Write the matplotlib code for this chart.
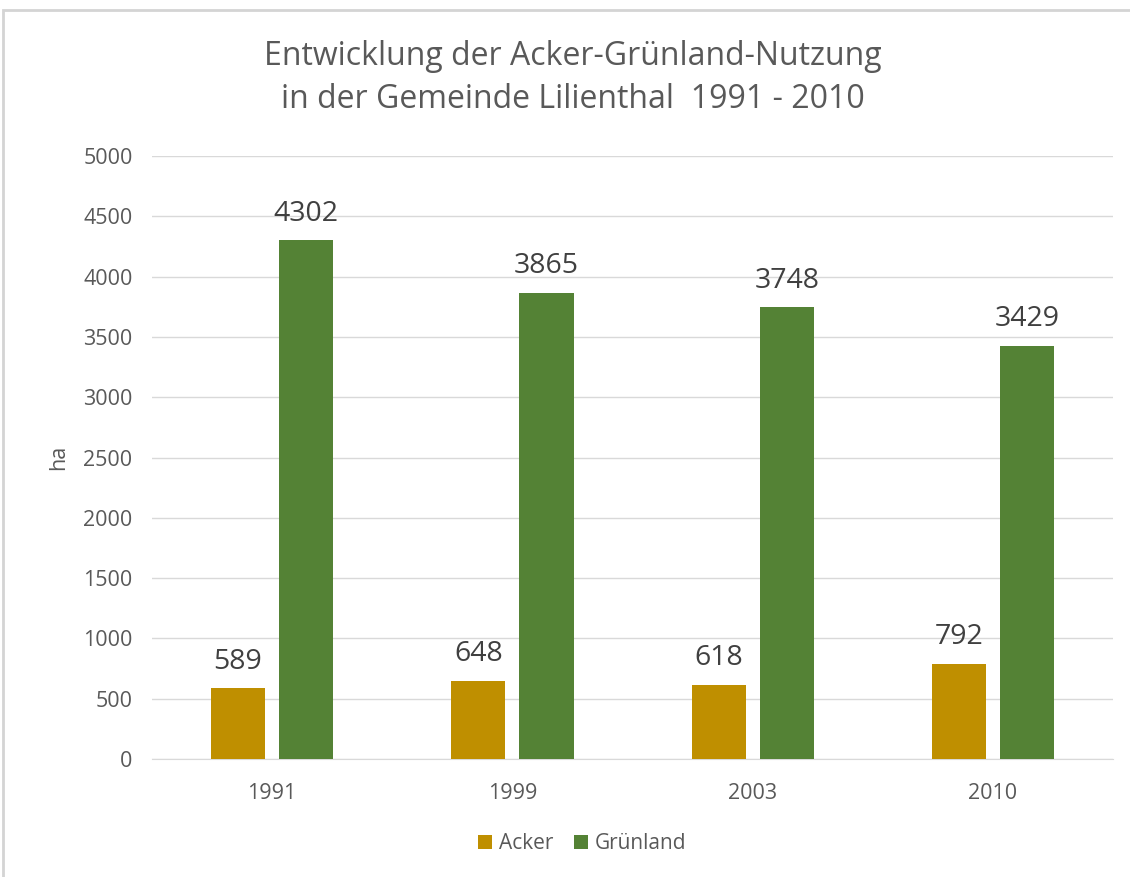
import numpy as np
import matplotlib.pyplot as plt
from matplotlib.patches import Rectangle

years = ['1991', '1999', '2003', '2010']
acker = [589, 648, 618, 792]
gruenland = [4302, 3865, 3748, 3429]
yticks = [0, 500, 1000, 1500, 2000, 2500, 3000, 3500, 4000, 4500, 5000]

plt.rcParams['font.family'] = ['Open Sans', 'DejaVu Sans']

fig = plt.figure(figsize=(11.3, 8.77), dpi=100)
ax = fig.add_axes([0.1345, 0.1345, 0.8505, 0.6875])

# chart frame (only top/left edges visible in the screenshot)
fig.patches.append(Rectangle((3 / 1130, -0.1), 1.2, (877 - 10) / 877 + 0.1,
                             transform=fig.transFigure, fill=False,
                             edgecolor='#d4d4d4', linewidth=2))

x = np.arange(len(years))
w = 0.225
off = 0.142
b1 = ax.bar(x - off, acker, width=w, color='#BF8F00', label='Acker', zorder=3)
b2 = ax.bar(x + off, gruenland, width=w, color='#548235', label='Grünland', zorder=3)

for bars, vals in ((b1, acker), (b2, gruenland)):
    for r, v in zip(bars, vals):
        ax.annotate(str(v), (r.get_x() + r.get_width() / 2, v),
                    xytext=(0, 9), textcoords='offset points',
                    ha='center', va='bottom', fontsize=20.5, color='#404040')

ax.set_xlim(-0.5, 3.5)
ax.set_ylim(0, 5000)
ax.set_yticks(yticks)
ax.set_xticks(x)
ax.set_xticklabels(years)
ax.tick_params(axis='both', length=0, labelsize=15.5, labelcolor='#595959')
ax.tick_params(axis='y', pad=14)
ax.tick_params(axis='x', pad=17)
ax.yaxis.grid(True, color='#d9d9d9', linewidth=1)
ax.set_axisbelow(True)
for s in ('top', 'right', 'left'):
    ax.spines[s].set_visible(False)
ax.spines['bottom'].set_color('#d9d9d9')

ax.set_ylabel('ha', fontsize=15.5, color='#595959', labelpad=10)

fig.text(0.507, 0.911, 'Entwicklung der Acker-Grünland-Nutzung\nin der Gemeinde Lilienthal  1991 - 2010',
         ha='center', va='center', fontsize=23, color='#595959', linespacing=1.4)

fig.legend(loc='center', bbox_to_anchor=(0.515, 0.038), ncol=2, frameon=False,
           fontsize=15, labelcolor='#595959', handlelength=0.7, handleheight=0.7,
           columnspacing=1.0, handletextpad=0.3)

fig.savefig('out.png', dpi=100)
